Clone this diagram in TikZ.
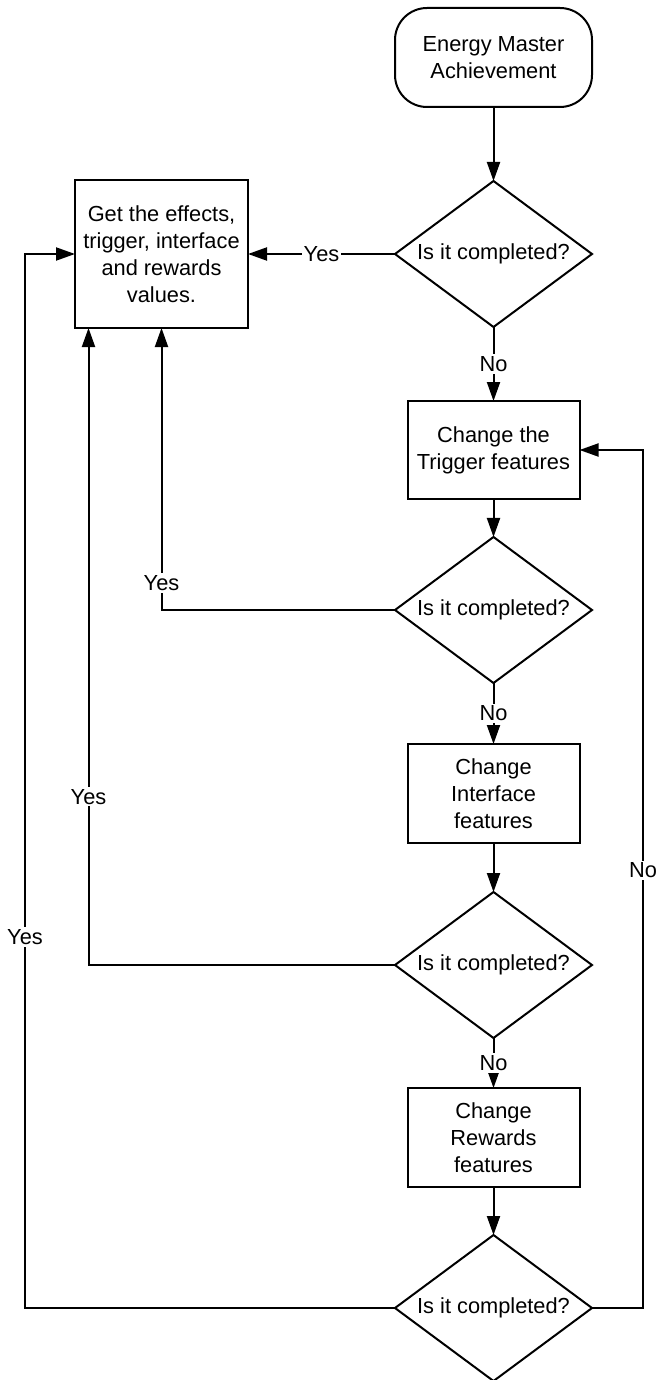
\documentclass[tikz,border=0pt]{standalone}
\usepackage{fontspec}
\setmainfont{Liberation Sans}
\usetikzlibrary{shapes.geometric,arrows.meta}
\begin{document}
\begin{tikzpicture}[x=1pt,y=-1pt,
  font=\fontsize{21.8}{27}\selectfont,
  every node/.style={inner sep=0pt, outer sep=0pt},
  base/.style={draw, line width=2pt, align=center},
  terminal/.style={base, rounded corners=32pt, minimum width=197pt, minimum height=99pt},
  process/.style={base, minimum width=172pt, minimum height=98pt},
  decision/.style={base, diamond, aspect=1.35, minimum width=197pt, minimum height=146pt},
  flow/.style={line width=2pt, -{Triangle[length=19pt,width=13pt]}},
  lbl/.style={fill=white, inner sep=2pt}
]
\useasboundingbox (0,0) rectangle (656,1380);

% main column
\node[terminal] (start) at (493.5,57.5) {Energy Master\\Achievement};
\node[decision] (d1) at (493.5,254) {Is it completed?};
\node[process, minimum width=173pt, minimum height=148pt] (b1) at (161.5,254)
  {Get the effects,\\trigger, interface\\and rewards\\values.};
\node[process] (b2) at (493.5,450) {Change the\\Trigger features};
\node[decision] (d2) at (493.5,610) {Is it completed?};
\node[process, minimum height=99pt] (b3) at (493.5,793.5) {Change\\Interface\\features};
\node[decision] (d3) at (493.5,965) {Is it completed?};
\node[process, minimum height=99pt] (b4) at (493.5,1137.5) {Change\\Rewards\\features};
\node[decision] (d4) at (493.5,1308) {Is it completed?};

% turning points of the outer loops
\coordinate (lx) at (25,254);
\coordinate (rx) at (643,450);

% downward flow
\draw[flow] (start) -- (d1);
\draw[flow] (d1.south) -- node[lbl] (n1) {No} (b2.north);
\draw[flow] (b2) -- (d2);
\draw[flow] (d2.south) -- node[lbl] (n2) {No} (b3.north);
\draw[flow] (b3) -- (d3);
\draw[flow] (d3.south) -- node[lbl] (n3) {No} (b4.north);
\draw[flow] (b4) -- (d4);

% "Yes" branches back to the result box
\draw[flow] (d1.west) -- node[lbl] (y1) {Yes} (b1.east);
\draw[flow] (d2.west) -| node[lbl, pos=0.548] (y2) {Yes} (b1.south);
\draw[flow] (d3.west) -| node[lbl, pos=0.632] (y3) {Yes} ([xshift=13.5pt]b1.south west);
\draw[flow] (d4.west) -| node[lbl, pos=0.676] (y4) {Yes} (lx) -- (b1.west);

% "No" loop back to the trigger step
\draw[flow] (d4.east) -| node[lbl, pos=0.755] (n4) {No} (rx) -- (b2.east);
\end{tikzpicture}
\end{document}
